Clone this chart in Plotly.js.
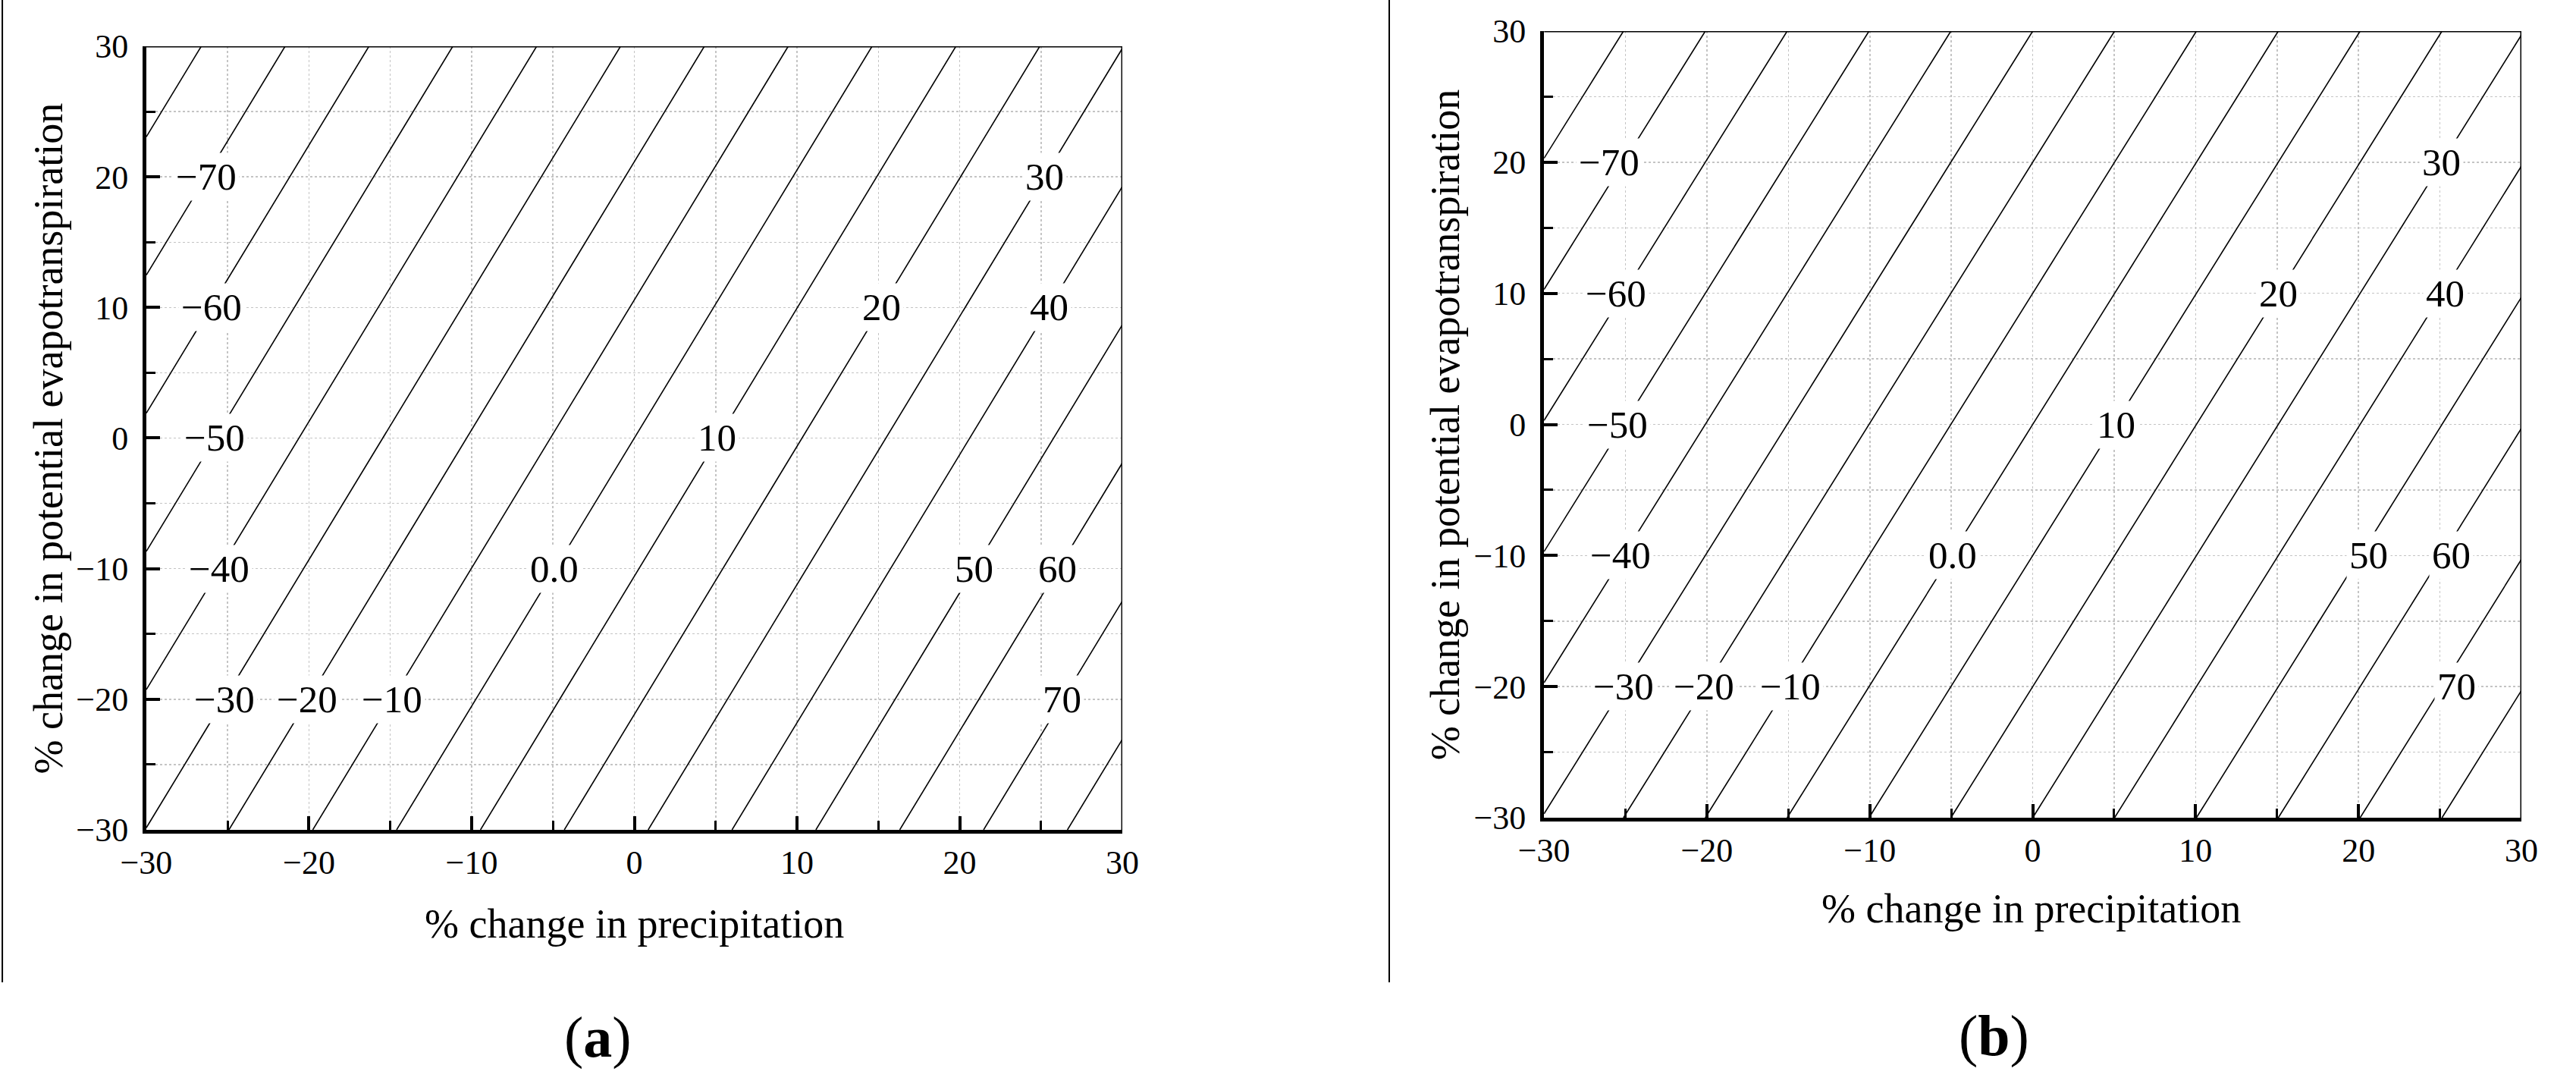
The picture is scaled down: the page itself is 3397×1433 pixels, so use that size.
<!DOCTYPE html>
<html>
<head>
<meta charset="utf-8">
<script src="https://cdn.plot.ly/plotly-3.0.1.min.js"></script>
<style>
  html, body { margin: 0; padding: 0; background: #fff; }
  #chart { width: 3397px; height: 1433px; }
</style>
</head>
<body>
<div id="chart"></div>
<script>
// Grid of the two axes (% change)
const precipChange = [-30, 30];
const petChange = [-30, 30];

// % change in runoff at the grid corners, rows = PET -30 / +30
const runoffA = [
  [-29.85, 86.55],
  [-86.55, 29.85],
];
const runoffB = [
  [-29.7, 89.7],
  [-89.7, 29.7],
];

// contour labels (text and where they sit)
const labelText = ["−70", "−60", "−50", "−40", "−30", "−20", "−10", "0.0", "10", "20", "30", "40", "50", "60", "70"];
const labelY = [20, 10, 0, -10, -20, -20, -20, -10, 0, 10, 20, 10, -10, -10, -20];
const labelXA = [-26.3, -26.0, -25.8, -25.5, -25.2, -20.1, -14.9, -4.9, 5.1, 15.2, 25.2, 25.5, 20.9, 26.0, 26.3];
const labelXB = [-26.0, -25.6, -25.5, -25.3, -25.1, -20.2, -14.9, -4.9, 5.1, 15.1, 25.1, 25.3, 20.6, 25.7, 26.0];

const FONT = "Liberation Serif, Times New Roman, serif";

function contourTrace(z, xa, ya) {
  return {
    type: "contour",
    x: precipChange,
    y: petChange,
    z: z,
    xaxis: xa,
    yaxis: ya,
    autocontour: false,
    contours: { start: -80, end: 80, size: 10, coloring: "none", showlabels: false },
    line: { color: "black", width: 1.6, smoothing: 0 },
    showscale: false,
    hoverinfo: "skip",
  };
}

const data = [contourTrace(runoffA, "x", "y"), contourTrace(runoffB, "x2", "y2")];

function axis(domain, anchor, standoff) {
  return {
    domain: domain,
    anchor: anchor,
    range: [-30, 30],
    dtick: 10,
    ticks: "inside",
    ticklen: 18,
    tickwidth: 4,
    tickcolor: "black",
    showline: true,
    linewidth: 5,
    linecolor: "black",
    mirror: false,
    zeroline: false,
    showgrid: true,
    gridcolor: "#c4c4c4",
    griddash: "dot",
    gridwidth: 1.5,
    minor: {
      dtick: 5,
      ticks: "inside",
      ticklen: 12,
      tickwidth: 3,
      tickcolor: "black",
      showgrid: true,
      gridcolor: "#c4c4c4",
      griddash: "dot",
      gridwidth: 1.5,
    },
    tickfont: { family: FONT, size: 44, color: "black" },
    ticklabelstandoff: standoff,
    fixedrange: true,
  };
}

const layout = {
  width: 3397,
  height: 1433,
  margin: { l: 0, r: 0, t: 0, b: 0 },
  paper_bgcolor: "white",
  plot_bgcolor: "white",
  showlegend: false,
  xaxis: axis([0.0568, 0.4357], "y", 0),
  yaxis: axis([0.2366, 0.9574], "x", 10),
  xaxis2: axis([0.5994, 0.9788], "y2", 0),
  yaxis2: axis([0.2477, 0.9714], "x2", 10),
  shapes: [
    // top and right frame lines
    { type: "line", xref: "x", yref: "y", x0: -30, x1: 30, y0: 30, y1: 30, line: { color: "black", width: 3 } },
    { type: "line", xref: "x", yref: "y", x0: 30, x1: 30, y0: -30, y1: 30, line: { color: "black", width: 3 } },
    { type: "line", xref: "x2", yref: "y2", x0: -30, x1: 30, y0: 30, y1: 30, line: { color: "black", width: 3 } },
    { type: "line", xref: "x2", yref: "y2", x0: 30, x1: 30, y0: -30, y1: 30, line: { color: "black", width: 3 } },
    // table borders around the panels
    { type: "line", xref: "paper", yref: "paper", x0: 0.0009, x1: 0.0009, y0: 1, y1: 0.0963, line: { color: "black", width: 2 } },
    { type: "line", xref: "paper", yref: "paper", x0: 0.5393, x1: 0.5393, y0: 1, y1: 0.0963, line: { color: "black", width: 2 } },
  ],
  annotations: [],
};

// contour labels, white box makes the gap in the line
function addLabels(xs, xref, yref) {
  labelText.forEach((t, i) => {
    layout.annotations.push({
      text: t,
      x: xs[i],
      y: labelY[i],
      xref: xref,
      yref: yref,
      xanchor: "center",
      yanchor: "middle",
      showarrow: false,
      bgcolor: "white",
      borderpad: 3,
      font: { family: FONT, size: 51, color: "black" },
    });
  });
}
addLabels(labelXA, "x", "y");
addLabels(labelXB, "x2", "y2");

// axis titles and panel names
const titleFont = { family: FONT, size: 54, color: "black" };
function paperText(text, x, y, font, angle) {
  layout.annotations.push({
    text: text,
    xref: "paper",
    yref: "paper",
    x: x,
    y: y,
    xanchor: "center",
    yanchor: "middle",
    textangle: angle || 0,
    showarrow: false,
    font: font,
  });
}
paperText("% change in precipitation", 0.2461, 0.150, titleFont);
paperText("% change in potential evapotranspiration", 0.0191, 0.597, titleFont, -90);
paperText("% change in precipitation", 0.7886, 0.164, titleFont);
paperText("% change in potential evapotranspiration", 0.5611, 0.609, titleFont, -90);
paperText("(<b>a</b>)", 0.2320, 0.046, { family: FONT, size: 76, color: "black" });
paperText("(<b>b</b>)", 0.7742, 0.047, { family: FONT, size: 76, color: "black" });

Plotly.newPlot("chart", data, layout, { displayModeBar: false, staticPlot: true });
</script>
</body>
</html>
